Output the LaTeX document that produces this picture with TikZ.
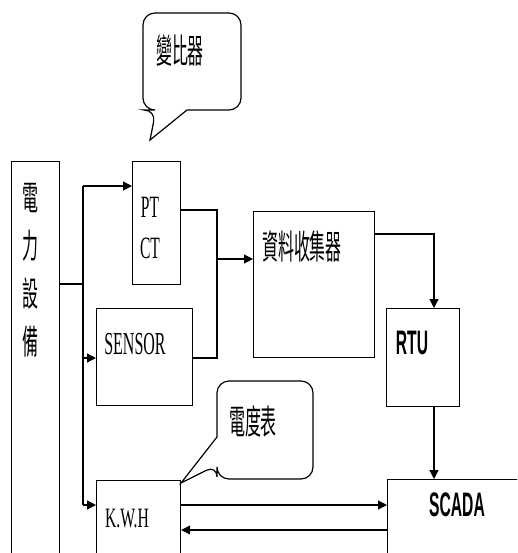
\documentclass[tikz,border=0pt]{standalone}
\usepackage{fontspec}
\usepackage{graphicx}
\usetikzlibrary{arrows.meta}
\newfontfamily\cjk{Noto Sans CJK TC}
\newfontfamily\serf{Liberation Serif}
\newfontfamily\sanf{Liberation Sans}
\newcommand\sqz[1]{\scalebox{0.47}[1]{#1}}
\newcommand\sqy[1]{\scalebox{0.5}[1]{#1}}
\tikzset{
  box/.style={draw, line width=1.2pt, inner sep=0pt, anchor=north west, fill=white},
  lbl/.style={inner sep=0pt, anchor=center},
  ln/.style={line width=1.2pt},
  arr/.style={line width=1.2pt, -{Triangle[length=9pt,width=9pt]}},
  bubble/.style={draw, line width=1.2pt, fill=white}
}
\begin{document}
\begin{tikzpicture}[x=1pt, y=-1pt]
\useasboundingbox (0,0) rectangle (517,553);
\clip (0,0) rectangle (517,553);
% boxes
\node[box, minimum width=48pt, minimum height=420pt] (power) at (11,161) {};
\node[box, minimum width=48pt, minimum height=123pt] (ptct) at (132,161) {};
\node[box, minimum width=96pt, minimum height=97pt] (sensor) at (96,308) {};
\node[box, minimum width=121pt, minimum height=146pt] (coll) at (253,211) {};
\node[box, minimum width=73pt, minimum height=98pt] (rtu) at (386,308) {};
\node[box, minimum width=200pt, minimum height=120pt] (scada) at (387,479) {};
\node[box, minimum width=84pt, minimum height=120pt] (kwh) at (96,480) {};
% texts
\node[lbl, align=center, font=\cjk\fontsize{34}{48}\selectfont] (tpower) at (30,270) {\sqz{電}\\\sqz{力}\\\sqz{設}\\\sqz{備}};
\node[lbl, font=\serf\fontsize{31}{34}\selectfont] (tpt) at (150,207) {\sqy{PT}};
\node[lbl, font=\serf\fontsize{31}{34}\selectfont] (tct) at (150,248) {\sqy{CT}};
\node[lbl, font=\serf\fontsize{32}{34}\selectfont] (tsensor) at (135,344) {\sqy{SENSOR}};
\node[lbl, font=\cjk\fontsize{34}{38}\selectfont] (tcoll) at (302,247) {\sqz{資料收集器}};
\node[lbl, font=\sanf\bfseries\fontsize{34}{38}\selectfont] (trtu) at (412,343) {\scalebox{0.46}[1]{RTU}};
\node[lbl, font=\sanf\bfseries\fontsize{34}{38}\selectfont] (tscada) at (457,505) {\scalebox{0.46}[1]{SCADA}};
\node[lbl, font=\serf\fontsize{28}{30}\selectfont] (tkwh) at (127,519) {\scalebox{0.56}[1]{K.W.H}};
% callouts
\draw[bubble] (187,110) [rounded corners=12pt] -- (241,110) -- (241,13) -- (143,13) -- (143,110) -- (156,110) [sharp corners] -- (150,140) -- cycle;
\node[lbl, font=\cjk\fontsize{34}{38}\selectfont] (tbianbi) at (180,51) {\sqz{變比器}};
\draw[bubble] (217,437) [rounded corners=12pt] -- (217,381) -- (313,381) -- (313,479) -- (217,479) -- (217,465) [sharp corners] -- (181,483) -- cycle;
\node[lbl, font=\cjk\fontsize{34}{38}\selectfont] (tdudu) at (253,421) {\sqz{電度表}};
% connectors
\coordinate (j0) at (83,284);
\coordinate (bPT) at (83,186);
\coordinate (bSN) at (83,358);
\coordinate (bKW) at (83,505);
\draw[ln] (power.east |- j0) -- (j0);
\draw[ln] (bPT) -- (bKW);
\draw[arr] (bPT) -- (bPT -| ptct.west);
\draw[arr] (bSN) -- (bSN -| sensor.west);
\draw[arr] (bKW) -- (bKW -| kwh.west);
\coordinate (c1) at (217,210);
\coordinate (c2) at (217,358);
\coordinate (cm) at (217,259);
\draw[ln] (c1 -| ptct.east) -- (c1) -- (c2) -- (c2 -| sensor.east);
\draw[arr] (cm) -- (cm -| coll.west);
\coordinate (c3) at (434,234);
\draw[arr] (c3 -| coll.east) -- (c3) -- (c3 |- rtu.north);
\draw[arr] (c3 |- rtu.south) -- (c3 |- scada.north);
\coordinate (k1) at (0,505);
\coordinate (k2) at (0,530);
\draw[arr] (k1 -| kwh.east) -- (k1 -| scada.west);
\draw[arr] (k2 -| scada.west) -- (k2 -| kwh.east);
\end{tikzpicture}
\end{document}
